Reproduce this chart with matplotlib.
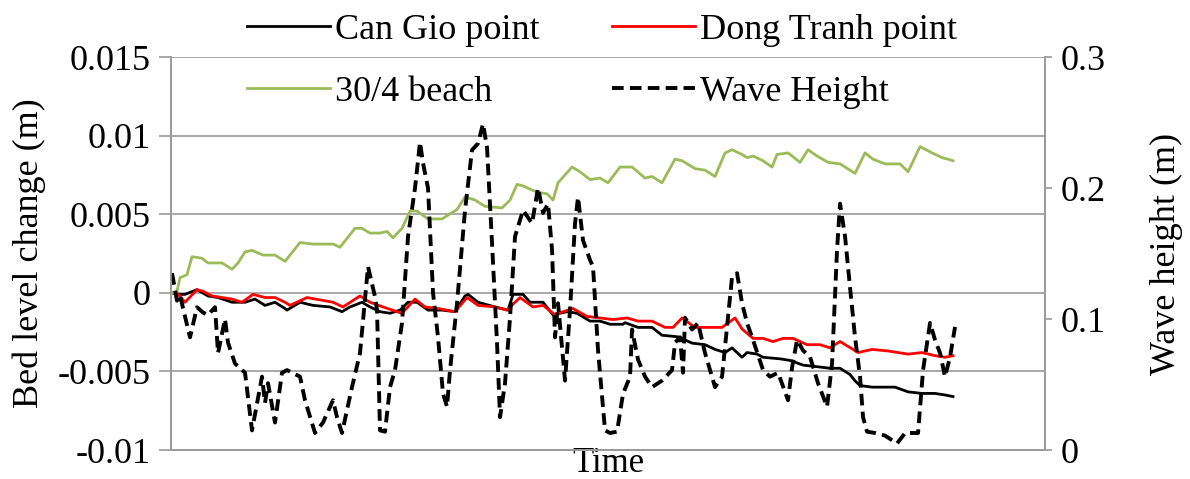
import numpy as np
import matplotlib.pyplot as plt
from matplotlib.ticker import FuncFormatter

plt.rcParams['font.family'] = ['Liberation Serif', 'DejaVu Serif']
plt.rcParams['axes.unicode_minus'] = False

# bed level change (m) at the three sites
t_cangio = [0, 5, 13, 25, 36, 46, 60, 73, 83, 93, 103, 113, 115, 128, 141, 158, 170, 178,
            190, 198, 208, 218, 228, 236, 245, 256, 270, 283, 293, 296, 306, 323, 336, 341,
            351, 358, 371, 381, 395, 405, 418, 428, 438, 451, 453, 466, 480, 490, 506, 520,
            533, 543, 553, 560, 570, 575, 585, 591, 608, 618, 631, 645, 658, 668, 678, 683,
            688, 700, 723, 736, 750, 763, 773, 781]
cangio = [0.0, -0.0001, -0.0001, 0.0002, -0.0002, -0.0003, -0.0006, -0.0006, -0.0004, -0.0008,
          -0.0006, -0.001, -0.0011, -0.0006, -0.0008, -0.0009, -0.0012, -0.0009, -0.0006,
          -0.0009, -0.0012, -0.0013, -0.0011, -0.0006, -0.0006, -0.0011, -0.0011, -0.0012,
          -0.0002, -0.0001, -0.0006, -0.0009, -0.0011, -0.0001, -0.0001, -0.0006, -0.0006,
          -0.0014, -0.0012, -0.0013, -0.0018, -0.0018, -0.002, -0.002, -0.0019, -0.0022,
          -0.0022, -0.0027, -0.0028, -0.0032, -0.0033, -0.0036, -0.0038, -0.0035, -0.0041,
          -0.0038, -0.0039, -0.0041, -0.0042, -0.0043, -0.0046, -0.0047, -0.0048, -0.0048,
          -0.0052, -0.0056, -0.0059, -0.006, -0.006, -0.0063, -0.0064, -0.0064, -0.0065, -0.0066]

t_dongtranh = [0, 5, 13, 25, 31, 40, 50, 60, 70, 81, 93, 103, 113, 118, 135, 161, 171, 188,
               198, 211, 225, 230, 243, 253, 266, 283, 295, 306, 323, 335, 343, 348, 361, 371,
               383, 391, 401, 415, 428, 441, 455, 466, 480, 493, 501, 510, 523, 536, 550, 563,
               570, 581, 591, 601, 611, 621, 635, 648, 658, 668, 681, 686, 700, 716, 726, 736,
               750, 763, 773, 781]
dongtranh = [0.0, 0.0, -0.0006, 0.0002, 0.0001, -0.0002, -0.0003, -0.0004, -0.0006, -0.0001,
             -0.0003, -0.0003, -0.0006, -0.0008, -0.0003, -0.0006, -0.0009, -0.0002, -0.0006,
             -0.0009, -0.0012, -0.0013, -0.0004, -0.0009, -0.001, -0.0012, -0.0003, -0.0008,
             -0.0009, -0.0011, -0.0006, -0.0003, -0.0009, -0.0008, -0.0014, -0.0012, -0.001,
             -0.0015, -0.0016, -0.0017, -0.0016, -0.0018, -0.0018, -0.0022, -0.0022, -0.0016,
             -0.0022, -0.0022, -0.0022, -0.0016, -0.0023, -0.0029, -0.0029, -0.0031, -0.0029,
             -0.0029, -0.0033, -0.0033, -0.0035, -0.0031, -0.0036, -0.0038, -0.0036, -0.0037,
             -0.0038, -0.0039, -0.0038, -0.004, -0.0041, -0.004]

t_beach = [0, 5, 8, 15, 20, 30, 36, 50, 60, 66, 73, 80, 91, 103, 113, 128, 141, 161, 168,
           173, 183, 190, 198, 208, 215, 221, 230, 238, 245, 256, 270, 285, 293, 303, 313,
           330, 338, 345, 351, 365, 375, 381, 386, 400, 408, 418, 428, 436, 448, 460, 473,
           480, 490, 496, 503, 510, 523, 533, 543, 553, 560, 570, 575, 581, 591, 600, 605,
           616, 628, 636, 645, 656, 668, 678, 683, 693, 701, 713, 728, 736, 748, 760, 770,
           776, 781]
beach = [0.0, 0.0001, 0.00096, 0.00115, 0.0023, 0.0022, 0.0019, 0.0019, 0.0015, 0.0019,
         0.0026, 0.0027, 0.0024, 0.0024, 0.002, 0.0032, 0.0031, 0.0031, 0.0029, 0.0033,
         0.0041, 0.0041, 0.0038, 0.0038, 0.0039, 0.0035, 0.0041, 0.0052, 0.0052, 0.0047,
         0.0047, 0.0053, 0.0061, 0.0059, 0.0055, 0.0054, 0.0059, 0.0069, 0.0068, 0.0064,
         0.0063, 0.0059, 0.007, 0.008, 0.0077, 0.0072, 0.0073, 0.007, 0.008, 0.008, 0.0073,
         0.0074, 0.007, 0.0077, 0.0085, 0.0084, 0.0079, 0.0078, 0.0074, 0.0089, 0.0091,
         0.0088, 0.0086, 0.0087, 0.0084, 0.008, 0.0088, 0.0089, 0.0083, 0.0091, 0.0087,
         0.0083, 0.0082, 0.0078, 0.0076, 0.0089, 0.0085, 0.0082, 0.0082, 0.0077, 0.0093,
         0.0089, 0.0086, 0.0085, 0.0084]

# wave height (m)
t_wave = [0, 5, 8, 18, 25, 31, 36, 43, 46, 53, 56, 63, 73, 80, 90, 93, 96, 103, 110, 115,
          128, 133, 143, 151, 161, 165, 170, 180, 188, 196, 203, 205, 208, 213, 218, 223,
          230, 236, 243, 248, 251, 256, 261, 266, 271, 275, 278, 285, 293, 300, 306, 311,
          315, 320, 325, 328, 333, 338, 343, 351, 360, 366, 371, 376, 380, 383, 386, 393,
          398, 403, 406, 411, 418, 421, 426, 433, 438, 445, 451, 458, 460, 466, 473, 480,
          490, 500, 503, 508, 511, 513, 520, 526, 533, 543, 550, 555, 560, 565, 570, 575,
          581, 591, 598, 606, 616, 620, 625, 631, 638, 646, 655, 660, 665, 668, 673, 678,
          683, 688, 691, 695, 703, 713, 725, 733, 746, 751, 758, 763, 768, 773, 778, 783]
wave = [0.135, 0.114, 0.118, 0.086, 0.109, 0.105, 0.103, 0.109, 0.074, 0.100, 0.082, 0.066,
        0.059, 0.015, 0.056, 0.036, 0.051, 0.021, 0.059, 0.061, 0.056, 0.038, 0.013, 0.021,
        0.038, 0.025, 0.013, 0.048, 0.074, 0.140, 0.117, 0.107, 0.015, 0.014, 0.048, 0.061,
        0.097, 0.163, 0.200, 0.235, 0.219, 0.200, 0.120, 0.086, 0.043, 0.033, 0.061, 0.112,
        0.183, 0.229, 0.234, 0.249, 0.231, 0.158, 0.082, 0.025, 0.051, 0.101, 0.163, 0.183,
        0.173, 0.200, 0.181, 0.188, 0.153, 0.086, 0.112, 0.053, 0.107, 0.173, 0.193, 0.160,
        0.145, 0.140, 0.076, 0.015, 0.013, 0.014, 0.043, 0.056, 0.092, 0.069, 0.056, 0.048,
        0.053, 0.061, 0.082, 0.086, 0.059, 0.101, 0.092, 0.097, 0.074, 0.048, 0.056, 0.094,
        0.132, 0.135, 0.112, 0.097, 0.084, 0.061, 0.056, 0.059, 0.038, 0.063, 0.084, 0.076,
        0.071, 0.051, 0.033, 0.066, 0.153, 0.188, 0.163, 0.124, 0.086, 0.056, 0.025, 0.014,
        0.013, 0.011, 0.005, 0.013, 0.013, 0.061, 0.097, 0.084, 0.074, 0.056, 0.071, 0.094]

left_ticks = [-0.01, -0.005, 0, 0.005, 0.01, 0.015]
right_ticks = [0, 0.1, 0.2, 0.3]

grey = '#9a9a9a'
fs = 26

fig = plt.figure(figsize=(11.9, 4.79), dpi=100)
ax = fig.add_axes([0.1437, 0.0605, 0.7345, 0.8205])
ax2 = ax.twinx()

l1, = ax.plot(t_cangio, cangio, color='black', lw=2.0, label='Can Gio point')
l2, = ax.plot(t_dongtranh, dongtranh, color='#ff0000', lw=2.0, label='Dong Tranh point')
l3, = ax.plot(t_beach, beach, color='#9bbb59', lw=2.0, label='30/4 beach')
l4, = ax2.plot(t_wave, wave, color='black', lw=2.8, linestyle=(0, (3, 1.6)),
               label='Wave Height')

ax.set_xlim(-1, 873)
ax.set_ylim(-0.01, 0.015)
ax2.set_ylim(0, 0.3)
ax.set_yticks(left_ticks)
ax2.set_yticks(right_ticks)
fmt = FuncFormatter(lambda v, p: '%g' % round(v, 4))
ax.yaxis.set_major_formatter(fmt)
ax2.yaxis.set_major_formatter(fmt)
ax.set_xticks([])

ax.grid(axis='y', color=grey, lw=1.2)
ax.set_axisbelow(True)
for a in (ax, ax2):
    a.spines['top'].set_visible(False)
    for s in ('left', 'right', 'bottom'):
        a.spines[s].set_color(grey)
        a.spines[s].set_linewidth(1.2)
ax.tick_params(axis='y', length=9, width=1.2, color=grey, labelsize=fs, pad=6)
ax2.tick_params(axis='y', length=5, width=1.2, color=grey, labelsize=fs, pad=6)

ax.set_ylabel('Bed level change (m)', fontsize=fs, labelpad=8)
ax2.set_ylabel('Wave height (m)', fontsize=fs, labelpad=32)
ax.set_xlabel('Time', fontsize=25, labelpad=-2)

fig.legend([l1, l3, l2, l4], ['Can Gio point', '30/4 beach', 'Dong Tranh point', 'Wave Height'],
           ncol=2, loc='upper left', bbox_to_anchor=(0.18, 1.04), frameon=False,
           fontsize=fs, handlelength=2.3, handletextpad=0.15, columnspacing=2.0,
           labelspacing=0.8)

fig.savefig('out.png', dpi=100)
